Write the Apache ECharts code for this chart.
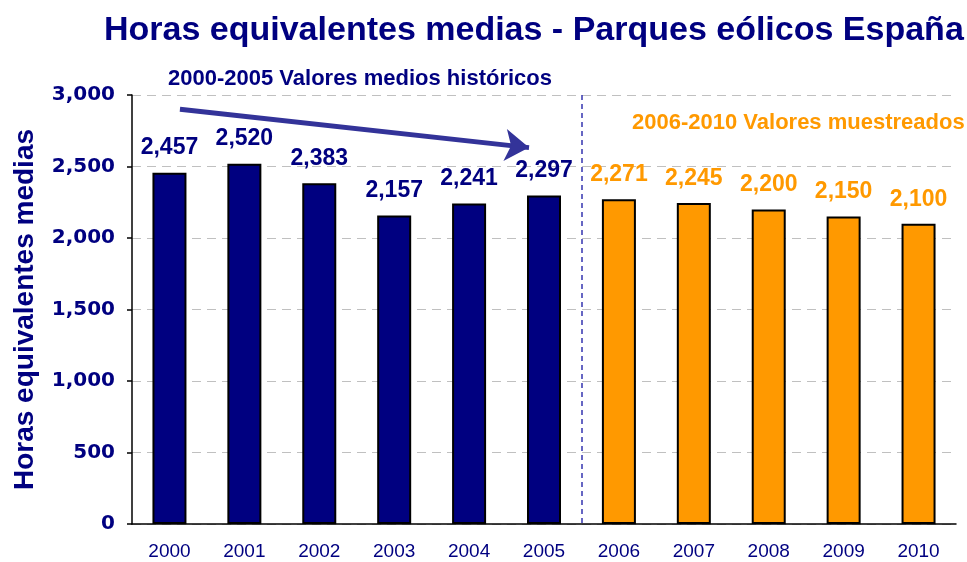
<!DOCTYPE html>
<html>
<head>
<meta charset="utf-8">
<script src="https://cdn.jsdelivr.net/npm/echarts@6/dist/echarts.min.js"></script>
<style>
  html, body { margin: 0; padding: 0; background: #fff; }
  #chart { width: 967px; height: 562px; }
</style>
</head>
<body>
<div id="chart"></div>
<script>
// datos
var years = ['2000', '2001', '2002', '2003', '2004', '2005', '2006', '2007', '2008', '2009', '2010'];
var historicos = [2457, 2520, 2383, 2157, 2241, 2297];   // 2000-2005
var muestreados = [2271, 2245, 2200, 2150, 2100];         // 2006-2010
var yTicks = [0, 500, 1000, 1500, 2000, 2500, 3000];

// flecha de tendencia (en coordenadas de datos: indice de categoria, horas)
var arrowFrom = [0.64, 2900];
var arrowTo = [5.3, 2632];

var navy = '#000080';
var orange = '#FF9900';
var fmt = function (v) { return Number(v).toLocaleString('en-US'); };

var serieHist = historicos.concat(muestreados.map(function () { return '-'; }));
var serieMuest = historicos.map(function () { return '-'; }).concat(muestreados);

var chart = echarts.init(document.getElementById('chart'));

var option = {
    animation: false,
    backgroundColor: '#fff',
    title: {
        text: 'Horas equivalentes medias - Parques eólicos España',
        left: 99,
        top: 9,
        textStyle: {
            color: navy,
            fontFamily: 'Liberation Sans, Arial',
            fontWeight: 'bold',
            fontSize: 34
        }
    },
    grid: { left: 132, right: 11, top: 95, bottom: 38 },
    xAxis: [{
        type: 'category',
        data: years,
        axisLine: { lineStyle: { color: '#000', width: 1.5 } },
        axisTick: { length: 5, lineStyle: { color: '#000', width: 1.5 } },
        axisLabel: {
            color: navy,
            fontFamily: 'Liberation Sans, Arial',
            fontSize: 19,
            margin: 18
        }
    }, {
        // eje auxiliar para la linea divisoria y la flecha
        type: 'value',
        min: 0,
        max: years.length,
        show: false
    }],
    yAxis: {
        type: 'value',
        min: yTicks[0],
        max: yTicks[yTicks.length - 1],
        interval: yTicks[1] - yTicks[0],
        name: 'Horas equivalentes medias',
        nameLocation: 'middle',
        nameGap: 93,
        nameTextStyle: {
            color: navy,
            fontFamily: 'Liberation Sans, Arial',
            fontWeight: 'bold',
            fontSize: 28
        },
        axisLine: { show: true, lineStyle: { color: '#000', width: 1.5 } },
        axisTick: { show: true, length: 5, lineStyle: { color: '#000', width: 1.5 } },
        axisLabel: {
            color: navy,
            fontFamily: 'DejaVu Sans',
            fontWeight: 'bold',
            fontSize: 20,
            margin: 17,
            formatter: fmt
        },
        splitLine: { lineStyle: { color: '#c0c0c0', type: [9, 6], width: 1 } }
    },
    series: [{
        name: 'Valores medios históricos',
        type: 'bar',
        stack: 'horas',
        barWidth: 34,
        data: serieHist,
        itemStyle: { color: navy, borderColor: '#000', borderWidth: 2 },
        label: {
            show: true,
            position: 'top',
            distance: 13,
            color: navy,
            fontFamily: 'Liberation Sans, Arial',
            fontWeight: 'bold',
            fontSize: 23,
            formatter: function (p) { return fmt(p.value); }
        }
    }, {
        name: 'Valores muestreados',
        type: 'bar',
        stack: 'horas',
        barWidth: 34,
        data: serieMuest,
        itemStyle: { color: orange, borderColor: '#000', borderWidth: 2 },
        label: {
            show: true,
            position: 'top',
            distance: 13,
            color: orange,
            fontFamily: 'Liberation Sans, Arial',
            fontWeight: 'bold',
            fontSize: 23,
            formatter: function (p) { return fmt(p.value); }
        }
    }, {
        type: 'line',
        xAxisIndex: 1,
        data: [[0, 0]],
        symbol: 'none',
        silent: true,
        lineStyle: { width: 0 },
        markLine: {
            silent: true,
            animation: false,
            label: { show: false },
            data: [
                [{ xAxis: historicos.length, yAxis: yTicks[yTicks.length - 1], symbol: 'none' },
                 { xAxis: historicos.length, yAxis: yTicks[0], symbol: 'none',
                   lineStyle: { color: '#3535b0', type: [5, 4], width: 1.5 } }],
                [{ coord: arrowFrom, symbol: 'none' },
                 { coord: arrowTo, symbol: 'arrow', symbolSize: [24, 24],
                   lineStyle: { color: '#333399', type: 'solid', width: 5 } }]
            ]
        }
    }],
    graphic: [{
        type: 'text',
        left: 168,
        top: 68,
        style: {
            text: '2000-2005 Valores medios históricos',
            fill: navy,
            font: 'bold 22px "Liberation Sans", Arial'
        }
    }, {
        type: 'text',
        left: 632,
        top: 112,
        style: {
            text: '2006-2010 Valores muestreados',
            fill: orange,
            font: 'bold 22px "Liberation Sans", Arial'
        }
    }]
};

chart.setOption(option);
</script>
</body>
</html>
